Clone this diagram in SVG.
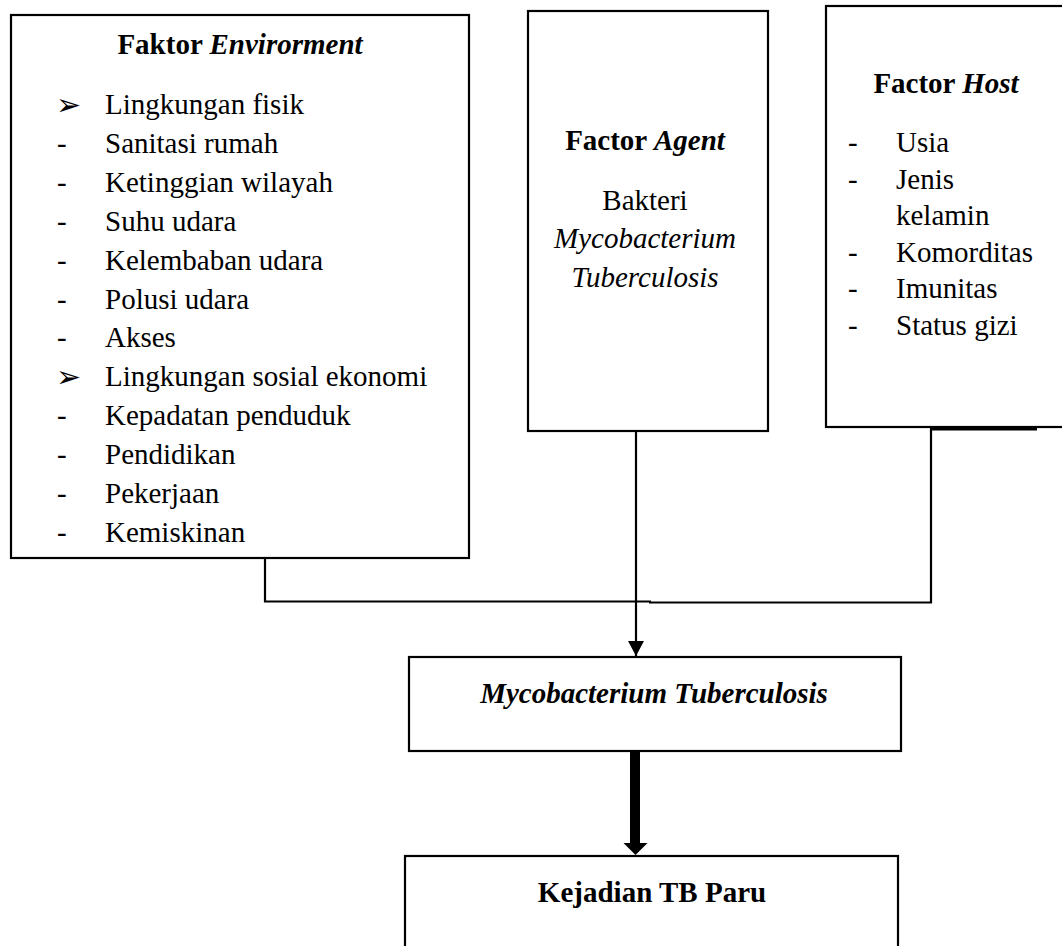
<svg xmlns="http://www.w3.org/2000/svg" width="1062" height="946" viewBox="0 0 1062 946">
<style>
.box{fill:#fff;stroke:#000;stroke-width:2.2}
.t{font-family:"Liberation Serif","Times New Roman",serif;font-size:29px;fill:#000}
.c{text-anchor:middle}
.b{font-weight:bold}
.i{font-style:italic}
.bul{font-family:"DejaVu Sans",sans-serif;font-size:30px;fill:#000}
.ln{fill:none;stroke:#000;stroke-width:2.2}
</style>
<defs>
<marker id="ah" markerWidth="16" markerHeight="16" viewBox="0 0 16 16" refX="15" refY="8" orient="auto" markerUnits="userSpaceOnUse">
<path d="M0,0 L15,8 L0,16 Z" fill="#000"/>
</marker>
</defs>
<rect width="1062" height="946" fill="#fff"/>

<g id="connectors">
<path class="ln" d="M265,558 V601.5 H651"/>
<path class="ln" d="M931,428 V602.5 H649"/>
<line x1="930" y1="428.8" x2="1037" y2="428.8" stroke="#000" stroke-width="3.5"/>
<line x1="636" y1="431" x2="636" y2="656" stroke="#000" stroke-width="2.2" marker-end="url(#ah)"/>
<rect x="630" y="752" width="10" height="92" fill="#000"/>
<polygon points="623.5,843 647.5,843 635.5,855" fill="#000"/>
</g>

<g id="env">
<rect class="box" x="11" y="15" width="458" height="543"/>
<text class="t c b" x="240" y="54">Faktor <tspan class="i">Envirorment</tspan></text>
<text class="bul" x="56" y="115">➢</text>
<text class="t" x="105" y="114">Lingkungan fisik</text>
<text class="t" x="57" y="152.9">-</text>
<text class="t" x="105" y="152.9">Sanitasi rumah</text>
<text class="t" x="57" y="191.8">-</text>
<text class="t" x="105" y="191.8">Ketinggian wilayah</text>
<text class="t" x="57" y="230.7">-</text>
<text class="t" x="105" y="230.7">Suhu udara</text>
<text class="t" x="57" y="269.6">-</text>
<text class="t" x="105" y="269.6">Kelembaban udara</text>
<text class="t" x="57" y="308.5">-</text>
<text class="t" x="105" y="308.5">Polusi udara</text>
<text class="t" x="57" y="347.4">-</text>
<text class="t" x="105" y="347.4">Akses</text>
<text class="bul" x="56" y="387.3">➢</text>
<text class="t" x="105" y="386.3">Lingkungan sosial ekonomi</text>
<text class="t" x="57" y="425.2">-</text>
<text class="t" x="105" y="425.2">Kepadatan penduduk</text>
<text class="t" x="57" y="464.1">-</text>
<text class="t" x="105" y="464.1">Pendidikan</text>
<text class="t" x="57" y="503">-</text>
<text class="t" x="105" y="503">Pekerjaan</text>
<text class="t" x="57" y="541.9">-</text>
<text class="t" x="105" y="541.9">Kemiskinan</text>
</g>

<g id="agent">
<rect class="box" x="528" y="11" width="240" height="420"/>
<text class="t c b" x="645" y="150">Factor <tspan class="i">Agent</tspan></text>
<text class="t c" x="645" y="210">Bakteri</text>
<text class="t c i" x="645" y="248">Mycobacterium</text>
<text class="t c i" x="645" y="287">Tuberculosis</text>
</g>

<g id="host">
<rect class="box" x="826" y="6" width="250" height="421"/>
<text class="t c b" x="946" y="93">Factor <tspan class="i">Host</tspan></text>
<text class="t" x="848" y="152">-</text>
<text class="t" x="896" y="152">Usia</text>
<text class="t" x="848" y="188.5">-</text>
<text class="t" x="896" y="188.5">Jenis</text>
<text class="t" x="896" y="225">kelamin</text>
<text class="t" x="848" y="261.5">-</text>
<text class="t" x="896" y="261.5">Komorditas</text>
<text class="t" x="848" y="298">-</text>
<text class="t" x="896" y="298">Imunitas</text>
<text class="t" x="848" y="334.5">-</text>
<text class="t" x="896" y="334.5">Status gizi</text>
</g>

<g id="myco">
<rect class="box" x="409" y="657" width="492" height="94"/>
<text class="t c b i" x="654" y="703">Mycobacterium Tuberculosis</text>
</g>

<g id="kejadian">
<rect class="box" x="405" y="856" width="493" height="120"/>
<text class="t c b" x="652" y="902">Kejadian TB Paru</text>
</g>
</svg>
